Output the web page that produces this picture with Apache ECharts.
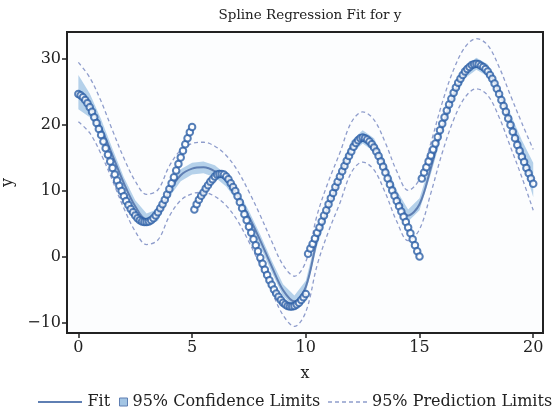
<!DOCTYPE html>
<html lang="en">
<head>
  <meta charset="utf-8">
  <title>Spline Regression Fit for y</title>
  <script src="https://cdn.jsdelivr.net/npm/echarts@6/dist/echarts.min.js"></script>
  <style>
    html, body { margin: 0; padding: 0; background: #fff; }
    #main { width: 556px; height: 410px; }
  </style>
</head>
<body>
<div id="main"></div>
<script type="text/javascript">
// observed y, one array per piece (x step 0.1)
var seg1Start = 0.0;   // 0.0 .. 5.0
var seg1Y = [24.7, 24.5, 24.2, 23.8, 23.3, 22.7, 22.0, 21.2, 20.3, 19.4,
             18.5, 17.5, 16.5, 15.5, 14.5, 13.5, 12.5, 11.6, 10.8, 10.0,
             9.2, 8.5, 7.9, 7.3, 6.8, 6.3, 5.9, 5.6, 5.4, 5.3,
             5.3, 5.4, 5.6, 5.9, 6.3, 6.8, 7.4, 8.0, 8.7, 9.5,
             10.3, 11.2, 12.1, 13.1, 14.1, 15.1, 16.1, 17.1, 18.0, 18.9, 19.7];
var seg2Start = 5.1;   // 5.1 .. 10.0
var seg2Y = [7.2, 8.0, 8.7, 9.3, 9.8, 10.4, 10.9, 11.4, 11.8, 12.2,
             12.5, 12.6, 12.6, 12.5, 12.2, 11.8, 11.2, 10.6, 10.0, 9.2,
             8.3, 7.4, 6.5, 5.6, 4.6, 3.7, 2.7, 1.8, 0.9, -0.1,
             -1.0, -1.9, -2.7, -3.5, -4.2, -4.9, -5.5, -6.0, -6.5, -6.9,
             -7.2, -7.4, -7.5, -7.5, -7.4, -7.2, -6.9, -6.5, -6.1, -5.6];
var seg3Start = 10.1;  // 10.1 .. 15.0
var seg3Y = [0.5, 1.3, 2.0, 2.8, 3.7, 4.5, 5.4, 6.3, 7.1, 8.0,
             8.9, 9.7, 10.6, 11.4, 12.2, 13.0, 13.8, 14.6, 15.3, 16.0,
             16.7, 17.3, 17.7, 18.0, 18.1, 18.0, 17.8, 17.5, 17.1, 16.6,
             16.0, 15.3, 14.5, 13.7, 12.8, 11.9, 11.0, 10.1, 9.3, 8.5,
             7.7, 6.9, 6.1, 5.3, 4.5, 3.6, 2.7, 1.8, 0.9, 0.1];
var seg4Start = 15.1;  // 15.1 .. 20.0
var seg4Y = [11.9, 12.8, 13.6, 14.5, 15.4, 16.3, 17.2, 18.2, 19.2, 20.2,
             21.2, 22.2, 23.1, 24.0, 24.9, 25.7, 26.4, 27.0, 27.6, 28.1,
             28.5, 28.8, 29.1, 29.2, 29.3, 29.2, 29.0, 28.8, 28.5, 28.1,
             27.6, 27.0, 26.3, 25.5, 24.7, 23.8, 22.9, 22.0, 21.0, 20.0,
             19.0, 18.0, 17.0, 16.1, 15.2, 14.4, 13.5, 12.7, 11.9, 11.1];

// spline fit and limits, x = 0, 0.5, ... 20
var fitY    = [25.0, 23.0, 19.6, 15.4, 11.2, 7.7, 5.7, 6.4, 10.0, 12.4,
               13.4, 13.6, 13.0, 11.6, 9.3, 6.1, 2.5, -1.4, -5.0, -6.7,
               -4.5, 2.6, 7.7, 12.0, 16.6, 18.2, 17.0, 13.5, 9.2, 6.3,
               8.0, 13.5, 19.6, 24.6, 28.0, 29.3, 28.3, 25.0, 20.6, 16.2, 11.7];
var clLower = [22.4, 21.2, 18.3, 14.4, 10.3, 6.8, 4.8, 5.5, 9.1, 11.5,
               12.5, 12.7, 12.1, 10.7, 8.4, 5.2, 1.6, -2.3, -5.9, -7.6,
               -5.4, 1.7, 6.8, 11.1, 15.6, 17.2, 16.0, 12.6, 8.3, 5.4,
               7.1, 12.6, 18.7, 23.7, 27.1, 28.4, 27.4, 24.1, 19.5, 14.7, 9.1];
var clUpper = [27.6, 24.8, 20.9, 16.4, 12.1, 8.6, 6.6, 7.3, 10.9, 13.3,
               14.3, 14.5, 13.9, 12.5, 10.2, 7.0, 3.4, -0.5, -4.1, -5.8,
               -3.6, 3.5, 8.6, 12.9, 17.6, 19.2, 18.0, 14.4, 10.1, 7.2,
               8.9, 14.4, 20.5, 25.5, 28.9, 30.2, 29.2, 25.9, 21.7, 17.7, 14.3];
var plLower = [20.5, 18.8, 15.6, 11.6, 7.4, 3.9, 1.9, 2.6, 6.2, 8.6,
               9.6, 9.8, 9.2, 7.8, 5.5, 2.3, -1.3, -5.2, -8.8, -10.5,
               -8.3, -1.2, 3.9, 8.2, 12.8, 14.4, 13.2, 9.7, 5.4, 2.5,
               4.2, 9.7, 15.8, 20.8, 24.2, 25.5, 24.5, 21.2, 16.7, 12.1, 7.1];
var plUpper = [29.5, 27.2, 23.6, 19.2, 15.0, 11.5, 9.5, 10.2, 13.8, 16.2,
               17.2, 17.4, 16.8, 15.4, 13.1, 9.9, 6.3, 2.4, -1.2, -2.9,
               -0.7, 6.4, 11.5, 15.8, 20.4, 22.0, 20.8, 17.3, 13.0, 10.1,
               11.8, 17.3, 23.4, 28.4, 31.8, 33.1, 32.1, 28.8, 24.5, 20.3, 16.3];

var xTicks = [0, 5, 10, 15, 20];
var yTicks = [-10, 0, 10, 20, 30];

var FONT = 'DejaVu Serif';
var FIT_COLOR = '#5f7fb3';
var PL_COLOR = '#8f9dcc';

function piece(start, ys) {
    var out = [];
    for (var i = 0; i < ys.length; i++) {
        out.push([+(start + i * 0.1).toFixed(1), ys[i]]);
    }
    return out;
}
var obs = piece(seg1Start, seg1Y).concat(piece(seg2Start, seg2Y),
          piece(seg3Start, seg3Y), piece(seg4Start, seg4Y));

var fitX = [];
for (var k = 0; k < fitY.length; k++) fitX.push(k * 0.5);
function pairs(ys) {
    return ys.map(function (v, i) { return [fitX[i], v]; });
}

// legend swatches
var solidIcon = 'path://M0,0H44V2H0Z';
var dashIcon = 'path://M0,0H4V1.5H0Z M7,0H11V1.5H7Z M14,0H18V1.5H14Z M21,0H25V1.5H21Z M28,0H32V1.5H28Z M35,0H39V1.5H35Z';

var legendText = { fontFamily: FONT, fontSize: 16, color: '#222' };

var myChart = echarts.init(document.getElementById('main'));

option = {
    backgroundColor: '#fff',
    animation: false,
    title: {
        text: 'Spline Regression Fit for y',
        left: 305, top: 3, textAlign: 'center',
        textStyle: { fontFamily: FONT, fontSize: 13.5, fontWeight: 'normal', color: '#222' }
    },
    legend: [{
        left: 33, top: 389, itemWidth: 45, itemHeight: 2, itemGap: 6,
        data: [{ name: 'Fit', icon: solidIcon }],
        textStyle: legendText
    }, {
        left: 114, top: 389, itemWidth: 8, itemHeight: 8, itemGap: 5,
        data: [{ name: '95% Confidence Limits', icon: 'rect' }],
        itemStyle: { borderColor: '#5f7fb3', borderWidth: 1 },
        textStyle: legendText
    }, {
        left: 323, top: 389, itemWidth: 39, itemHeight: 1.5, itemGap: 5,
        data: [{ name: '95% Prediction Limits', icon: dashIcon }],
        textStyle: legendText
    }],
    grid: {
        left: 67, right: 13, top: 32, bottom: 77,
        outerBoundsMode: 'none',
        show: true, borderColor: '#222', borderWidth: 2, backgroundColor: '#fcfdfe'
    },
    xAxis: {
        type: 'value', min: -0.5, max: 20.43,
        name: 'x', nameLocation: 'middle', nameGap: 33,
        nameTextStyle: { fontFamily: FONT, fontSize: 16, color: '#222' },
        axisLine: { show: false, onZero: false },
        axisTick: { show: true, length: 5, customValues: xTicks, lineStyle: { color: '#222', width: 1.5 } },
        axisLabel: { customValues: xTicks, fontFamily: FONT, fontSize: 16, color: '#222', margin: 7 },
        splitLine: { show: false }
    },
    yAxis: {
        type: 'value', min: -11.5, max: 34.1,
        name: 'y', nameLocation: 'middle', nameGap: 50,
        nameTextStyle: { fontFamily: FONT, fontSize: 16, color: '#222' },
        axisLine: { show: false, onZero: false },
        axisTick: { show: true, length: 5, customValues: yTicks, lineStyle: { color: '#222', width: 1.5 } },
        axisLabel: {
            customValues: yTicks, fontFamily: FONT, fontSize: 16, color: '#222', margin: 6,
            formatter: function (v) { return String(v).replace('-', '\u2212'); }
        },
        splitLine: { show: false }
    },
    series: [{
        name: '95% Confidence Limits',
        type: 'custom',
        itemStyle: { color: '#a3c5e4' },
        data: fitX.map(function (x, i) { return [x, clLower[i], clUpper[i]]; }),
        encode: { x: 0, y: [1, 2] },
        renderItem: function (params, api) {
            if (params.dataIndex !== 0) return null;
            var pts = [];
            for (var i = 0; i < fitX.length; i++) pts.push(api.coord([fitX[i], clUpper[i]]));
            for (var j = fitX.length - 1; j >= 0; j--) pts.push(api.coord([fitX[j], clLower[j]]));
            return {
                type: 'polygon',
                shape: { points: pts },
                style: { fill: '#a8c9e6', opacity: 0.85 }
            };
        },
        z: 1
    }, {
        name: 'Fit',
        type: 'line',
        data: pairs(fitY),
        smooth: 0.35,
        symbol: 'none',
        lineStyle: { color: FIT_COLOR, width: 2 },
        itemStyle: { color: FIT_COLOR },
        z: 2
    }, {
        name: '95% Prediction Limits',
        type: 'line',
        data: pairs(plUpper),
        smooth: 0.35,
        symbol: 'none',
        lineStyle: { color: PL_COLOR, width: 1.3, type: [4, 3] },
        itemStyle: { color: PL_COLOR },
        z: 2
    }, {
        name: '95% Prediction Limits',
        type: 'line',
        data: pairs(plLower),
        smooth: 0.35,
        symbol: 'none',
        lineStyle: { color: PL_COLOR, width: 1.3, type: [4, 3] },
        itemStyle: { color: PL_COLOR },
        z: 2
    }, {
        name: 'y',
        type: 'scatter',
        data: obs,
        symbol: 'emptyCircle',
        symbolSize: 6.5,
        itemStyle: { color: '#2c5fa6', borderColor: '#2c5fa6', borderWidth: 1.3 },
        z: 3
    }]
};

myChart.setOption(option, true);
</script>
</body>
</html>
